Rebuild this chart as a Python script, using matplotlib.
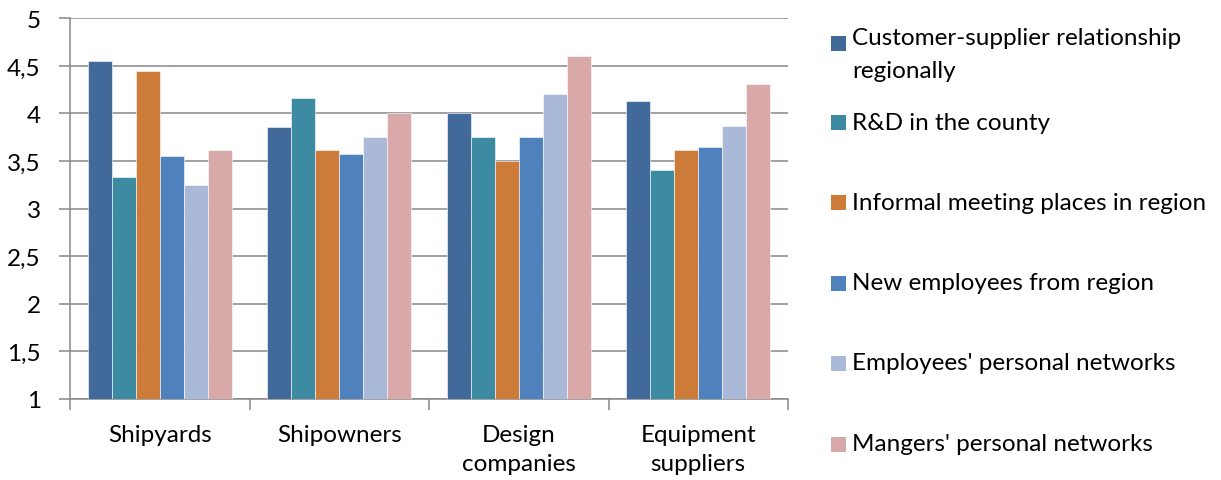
import numpy as np
import matplotlib
matplotlib.use("Agg")
import matplotlib.pyplot as plt
from matplotlib.patches import Rectangle
from matplotlib.ticker import FixedLocator, FuncFormatter

plt.rcParams['font.family'] = ['Lato', 'DejaVu Sans']

categories = ["Shipyards", "Shipowners", "Design\ncompanies", "Equipment\nsuppliers"]
series_names = [
    "Customer-supplier relationship\nregionally",
    "R&D in the county",
    "Informal meeting places in region",
    "New employees from region",
    "Employees' personal networks",
    "Mangers' personal networks",
]
customer_supplier = [4.55, 3.86, 4.00, 4.13]
rnd_county = [3.33, 4.16, 3.75, 3.41]
informal_meeting = [4.45, 3.62, 3.50, 3.62]
new_employees = [3.55, 3.57, 3.75, 3.65]
employees_networks = [3.25, 3.75, 4.20, 3.87]
managers_networks = [3.62, 4.00, 4.60, 4.31]
series_values = [customer_supplier, rnd_county, informal_meeting,
                 new_employees, employees_networks, managers_networks]
colors = ["#416A9B", "#3C8BA2", "#CC7B39", "#4F81BD", "#AAB9D7", "#D9A9AA"]
yticks = [1, 1.5, 2, 2.5, 3, 3.5, 4, 4.5, 5]

W, H = 1221, 481
FS = 17.5
fig = plt.figure(figsize=(W / 100, H / 100), dpi=100)
ax = fig.add_axes([70 / W, 1 - 400 / H, (788 - 70) / W, (400 - 19.3) / H])

grid_c = "#878787"
n = len(series_values)
group_w = 0.8
bw = group_w / n
centers = np.arange(len(categories)) + 0.5
for i, (vals, col) in enumerate(zip(series_values, colors)):
    xs = centers - group_w / 2 + bw * (i + 0.5)
    ax.bar(xs, np.array(vals) - 1, bottom=1, width=bw, color=col,
           edgecolor="white", linewidth=0.4, zorder=3)

ax.set_xlim(0, len(categories))
ax.set_ylim(1, 5)
ax.set_yticks(yticks)
ax.yaxis.set_major_formatter(FuncFormatter(lambda v, p: (f"{v:g}").replace(".", ",")))
ax.yaxis.grid(True, color=grid_c, linewidth=1.1, zorder=0)
ax.set_axisbelow(True)

ax.set_xticks(centers)
ax.set_xticklabels(categories, linespacing=1.45)
ax.xaxis.set_minor_locator(FixedLocator(np.arange(len(categories) + 1)))
ax.tick_params(axis="x", which="major", length=0, pad=18, labelsize=FS, colors="black")
ax.tick_params(axis="x", which="minor", length=8, width=1.1, color=grid_c, direction="out")
ax.tick_params(axis="y", which="major", length=8, width=1.1, color=grid_c, pad=13,
               labelsize=FS, labelcolor="black")

for s in ("top", "right"):
    ax.spines[s].set_visible(False)
for s in ("left", "bottom"):
    ax.spines[s].set_color(grid_c)
    ax.spines[s].set_linewidth(1.1)

# legend drawn as swatches and labels in figure space
legend_y = [44, 123, 203, 284, 364, 445]
for name, col, yp in zip(series_names, colors, legend_y):
    fig.patches.append(Rectangle((831 / W, 1 - (yp + 8) / H), 15 / W, 15 / H,
                                 transform=fig.transFigure, facecolor=col,
                                 edgecolor="none"))
    if "\n" in name:
        fig.text(852 / W, 1 - (yp - 16) / H, name, fontsize=FS, va="top",
                 ha="left", linespacing=1.7)
    else:
        fig.text(852 / W, 1 - yp / H, name, fontsize=FS, va="center", ha="left")

fig.savefig("out.png", dpi=100)
